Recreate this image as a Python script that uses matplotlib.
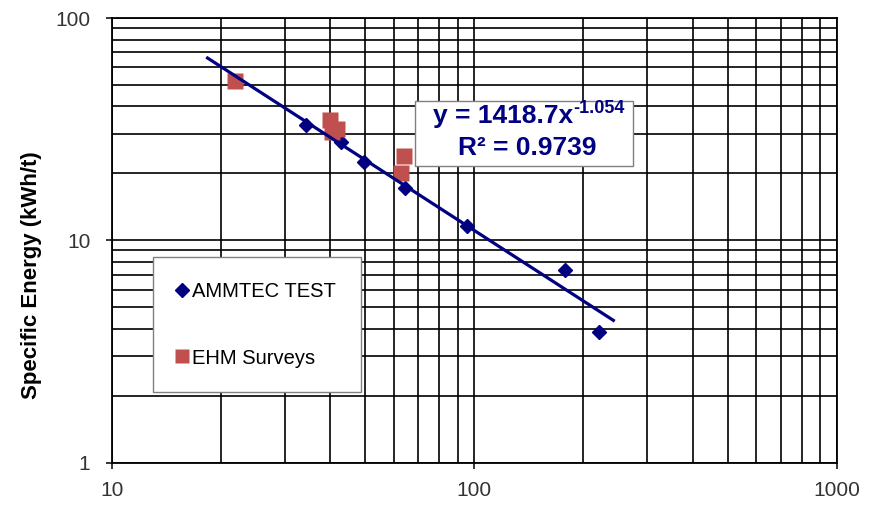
import matplotlib
matplotlib.use("Agg")
import matplotlib.pyplot as plt
import numpy as np
from matplotlib.lines import Line2D
from matplotlib.patches import Rectangle
from matplotlib.ticker import LogLocator, FixedLocator, FixedFormatter, NullFormatter

plt.rcParams['font.family'] = ['Liberation Sans', 'DejaVu Sans']

# AMMTEC test work
ammtec_x = [34.2, 42.8, 49.5, 64.3, 95.4, 178, 221]
ammtec_y = [32.9, 27.6, 22.4, 17.1, 11.65, 7.38, 3.88]

# EHM survey points
ehm_x = [21.9, 39.9, 41.7, 40.6, 63.9, 62.7]
ehm_y = [52.0, 34.7, 31.6, 30.6, 23.9, 20.0]

# power law fit y = a * x^b
fit_a = 1418.7
fit_b = -1.054
fit_r2 = 0.9739
fit_xmin, fit_xmax = 18.2, 244

x_ticks = [10, 100, 1000]
y_ticks = [1, 10, 100]

navy = '#000080'
red = '#C0504D'

fig = plt.figure(figsize=(8.81, 5.12), dpi=100)
ax = fig.add_axes([112 / 881, 49.5 / 512, 724.7 / 881, 444.5 / 512])
ax.set_xscale('log')
ax.set_yscale('log')
ax.set_xlim(10, 1000)
ax.set_ylim(1, 100)

# full log grid, major and minor in black
ax.xaxis.set_major_locator(FixedLocator(x_ticks))
ax.xaxis.set_major_formatter(FixedFormatter([str(v) for v in x_ticks]))
ax.yaxis.set_major_locator(FixedLocator(y_ticks))
ax.yaxis.set_major_formatter(FixedFormatter([str(v) for v in y_ticks]))
ax.xaxis.set_minor_locator(LogLocator(base=10, subs=np.arange(2, 10)))
ax.yaxis.set_minor_locator(LogLocator(base=10, subs=np.arange(2, 10)))
ax.xaxis.set_minor_formatter(NullFormatter())
ax.yaxis.set_minor_formatter(NullFormatter())
ax.grid(True, which='both', color='black', lw=1.2)
ax.set_axisbelow(True)

ax.tick_params(which='major', direction='out', length=4.5, width=1.1,
               labelsize=15, labelcolor='#333333')
ax.tick_params(axis='y', which='major', pad=11)
ax.tick_params(axis='x', which='major', pad=8.5)
ax.tick_params(which='minor', length=0)
for s in ax.spines.values():
    s.set_color('black')
    s.set_linewidth(1.3)

ax.plot(ammtec_x, ammtec_y, 'D', color=navy, ms=7.5, zorder=3)
ax.plot(ehm_x, ehm_y, 's', color=red, ms=11, mec='none', zorder=3)

fx = np.geomspace(fit_xmin, fit_xmax, 50)
ax.plot(fx, fit_a * fx ** fit_b, color=navy, lw=2.3, zorder=4,
        solid_capstyle='butt')

ax.set_ylabel('Specific Energy (kWh/t)', fontsize=16, fontweight='bold')
ax.yaxis.set_label_coords(-0.0966, 0.421)

# equation box
ax.add_patch(Rectangle((0.4178, 0.6676), 0.3008, 0.1462, transform=ax.transAxes,
                       facecolor='white', edgecolor='#808080', lw=1.0, zorder=5))
ax.text(0.6361, 0.7635, 'y = %.1fx' % fit_a, transform=ax.transAxes,
        ha='right', va='baseline', fontsize=19, fontweight='bold',
        color=navy, zorder=6)
ax.annotate('%.3f' % fit_b, xy=(0.6361, 0.7635), xycoords='axes fraction',
            xytext=(0.5, 7), textcoords='offset points', ha='left',
            va='baseline', fontsize=13, fontweight='bold', color=navy, zorder=6)
ax.text(0.5725, 0.6915, 'R² = %.4f' % fit_r2, transform=ax.transAxes,
        ha='center', va='baseline', fontsize=19, fontweight='bold',
        color=navy, zorder=6)

handles = [
    Line2D([], [], ls='none', marker='D', color=navy, ms=7),
    Line2D([], [], ls='none', marker='s', color=red, mec='none', ms=10),
]
leg = ax.legend(handles, ['AMMTEC TEST', 'EHM Surveys'], loc='upper left',
                bbox_to_anchor=(0.0566, 0.4623), borderaxespad=0,
                fontsize=14.5, frameon=True, fancybox=False,
                edgecolor='#808080', framealpha=1, labelspacing=2.38,
                borderpad=1.22, handlelength=0.45, handletextpad=0.27)
leg.get_frame().set_linewidth(1.0)
leg.set_zorder(6)

fig.savefig('out.png', dpi=100)
